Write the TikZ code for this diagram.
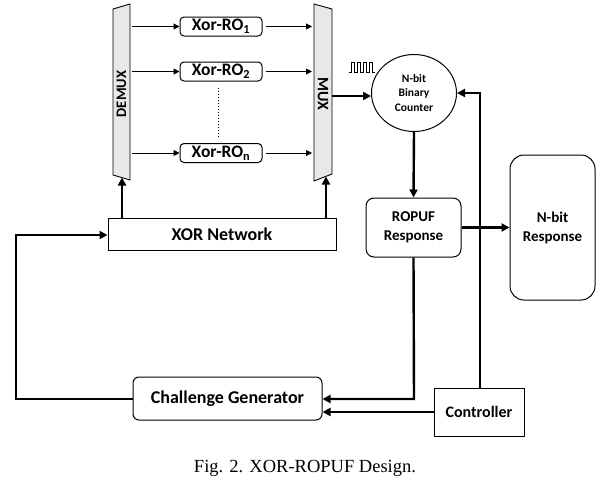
\documentclass[tikz,border=0pt]{standalone}
\usepackage{fontspec}
\setmainfont{Liberation Serif}
\newfontfamily\lab{Carlito}
\newfontfamily\capfont{Liberation Serif}
\usetikzlibrary{arrows.meta,shapes.geometric}
\tikzset{
  thinline/.style={line width=0.9pt},
  thickarr/.style={line width=2.4pt,-{Triangle[length=8pt,width=8pt]}},
  thinarr/.style={line width=1pt,-{Triangle[length=6pt,width=6pt]}},
  blk/.style={draw,line width=1pt,inner sep=0pt,align=center,font=\lab\bfseries},
  robox/.style={blk,rounded corners=4pt,minimum width=82pt,minimum height=19pt,font=\lab\bfseries\fontsize{17.5}{18}\selectfont},
  muxfill/.style={draw,line width=0.9pt,fill=gray!18},
}
\begin{document}
\begin{tikzpicture}[x=1pt,y=-1pt]
\useasboundingbox (0,0) rectangle (608,485);
% DEMUX and MUX
\draw[muxfill] (113,9) -- (130,4) -- (130,180) -- (113,175) -- cycle;
\node[rotate=90,font=\lab\bfseries\fontsize{14.5}{16}\selectfont] (demux) at (121.5,94) {DEMUX};
\draw[muxfill] (314,4) -- (332,9) -- (332,174) -- (314,181) -- cycle;
\node[rotate=-90,font=\lab\bfseries\fontsize{16}{17}\selectfont] (mux) at (323,94) {MUX};
\coordinate (dmxB) at (122,177.5);
\coordinate (muxB) at (326,176.5);
% RO boxes
\node[robox] (ro1) at (221,26.5) {Xor-RO\textsubscript{1}};
\node[robox] (ro2) at (221,71.5) {Xor-RO\textsubscript{2}};
\node[robox] (ron) at (221,153) {Xor-RO\textsubscript{n}};
\foreach \r/\y in {ro1/26.5,ro2/71.5,ron/153}{
  \draw[thinarr] (132,\y) -- (\r.west);
  \draw[thinarr] (\r.east) ++(3,0) -- (312,\y);
}
\draw[line width=1pt,dotted] (ro2.south) ++(-3,6) -- ([xshift=-3pt,yshift=6pt]ron.north);
% XOR network
\node[blk,minimum width=228pt,minimum height=32pt,font=\lab\bfseries\fontsize{18}{20}\selectfont] (xor) at (222,234) {XOR Network};
\draw[thickarr] (xor.north -| dmxB) -- (dmxB);
\draw[thickarr] (xor.north -| muxB) -- (muxB);
% counter
\node[draw,ellipse,line width=1pt,minimum width=85pt,minimum height=77pt,inner sep=0pt,align=center,font=\lab\bfseries\fontsize{11.5}{14.5}\selectfont] (cnt) at (414,93) {N-bit\\Binary\\Counter};
\draw[thickarr] (332,96) -- (cnt.west |- 0,96);
\draw[thinline,line join=miter] (349,72) -- (351,72) -- (351,62) -- (354,62) -- (354,72) -- (357,72) -- (357,62) -- (360,62) -- (360,72) -- (363,72) -- (363,62) -- (366,62) -- (366,72) -- (369,72) -- (369,62) -- (372,62) -- (372,72) -- (375,72);
% ROPUF response
\node[blk,rounded corners=8pt,minimum width=95pt,minimum height=59pt,font=\lab\bfseries\fontsize{15}{19}\selectfont] (rop) at (413.5,227.5) {ROPUF\\Response};
\draw[thickarr] (cnt.south) -- (rop.north);
% N-bit response
\node[blk,rounded corners=14pt,minimum width=85pt,minimum height=145pt,font=\lab\bfseries\fontsize{15}{19}\selectfont] (nbr) at (552.5,227.5) {N-bit\\Response};
\draw[thickarr] (rop.east) -- (nbr.west);
% challenge generator and controller
\node[blk,rounded corners=6pt,minimum width=189pt,minimum height=43pt,font=\lab\bfseries\fontsize{18}{20}\selectfont] (cg) at (227.5,398.5) {Challenge Generator};
\node[blk,minimum width=90pt,minimum height=48pt,font=\lab\bfseries\fontsize{16}{18}\selectfont] (ctl) at (479,412) {Controller};
\draw[thickarr] (rop.south) -- (414,399) -- (cg.east |- 0,399);
\draw[thickarr] (ctl.west) -- (cg.east |- ctl.west);
\draw[thickarr] (ctl.north -| 480,0) -- (480,93) -- (cnt.east |- 0,93);
\draw[thickarr] (cg.west |- 0,399) -- (16,399) -- (16,235) -- (xor.west |- 0,235);
% caption
\node[font=\capfont\fontsize{18.5}{22}\selectfont] (cap) at (305,468) {Fig. 2. XOR-ROPUF Design.};
\end{tikzpicture}
\end{document}
